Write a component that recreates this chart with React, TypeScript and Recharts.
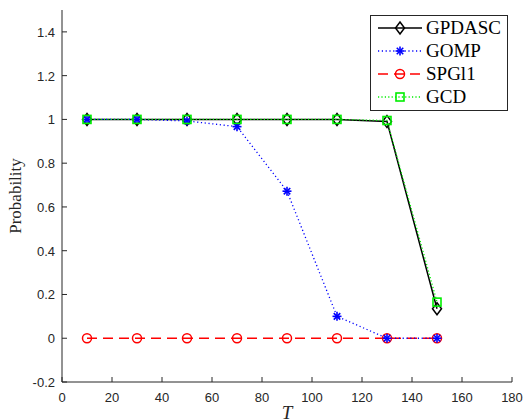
import React from 'react';
import { LineChart, Line, XAxis, YAxis, Legend } from 'recharts';

// sparsity level T and recovery probability per algorithm
const tValues = [10, 30, 50, 70, 90, 110, 130, 150];
const gpdasc = [1, 1, 1, 1, 1, 1, 0.99, 0.135];
const gomp = [1, 1, 0.993, 0.967, 0.672, 0.1, 0, 0];
const spgl1 = [0, 0, 0, 0, 0, 0, 0, 0];
const gcd = [1, 1, 1, 1, 1, 1, 0.995, 0.165];

const xTicks = [0, 20, 40, 60, 80, 100, 120, 140, 160, 180];
const yTicks = [-0.2, 0, 0.2, 0.4, 0.6, 0.8, 1, 1.2, 1.4];

const data = tValues.map((t, i) => ({
  t,
  gpdasc: gpdasc[i],
  gomp: gomp[i],
  spgl1: spgl1[i],
  gcd: gcd[i],
}));

const AXIS = '#262626';
const TICK_FONT = '"Liberation Sans", Arial, sans-serif';
const SERIF = '"Liberation Serif", "Times New Roman", serif';

const fmt = (v: number) => String(Math.round(v * 10) / 10);

function Marker({ kind, cx, cy, color }: { kind: string; cx: number; cy: number; color: string }) {
  if (kind === 'diamond') {
    return (
      <path
        d={`M${cx},${cy - 6} L${cx + 4.5},${cy} L${cx},${cy + 6} L${cx - 4.5},${cy} Z`}
        fill="none"
        stroke={color}
        strokeWidth={1.5}
      />
    );
  }
  if (kind === 'star') {
    const r = 4.5;
    const d = r * 0.72;
    return (
      <g stroke={color} strokeWidth={1.6}>
        <line x1={cx - r} y1={cy} x2={cx + r} y2={cy} />
        <line x1={cx} y1={cy - r} x2={cx} y2={cy + r} />
        <line x1={cx - d} y1={cy - d} x2={cx + d} y2={cy + d} />
        <line x1={cx - d} y1={cy + d} x2={cx + d} y2={cy - d} />
      </g>
    );
  }
  if (kind === 'circle') {
    return <circle cx={cx} cy={cy} r={4.5} fill="none" stroke={color} strokeWidth={1.5} />;
  }
  return <rect x={cx - 4} y={cy - 4} width={8} height={8} fill="none" stroke={color} strokeWidth={1.6} />;
}

const series = [
  { key: 'gpdasc', name: 'GPDASC', color: '#000000', dash: undefined, width: 1.5, marker: 'diamond' },
  { key: 'spgl1', name: 'SPGl1', color: '#ff0000', dash: '10 6', width: 1.5, marker: 'circle' },
  { key: 'gomp', name: 'GOMP', color: '#0000ff', dash: '1.2 2.6', width: 1.3, marker: 'star' },
  { key: 'gcd', name: 'GCD', color: '#00ee00', dash: '1.2 2.2', width: 1.3, marker: 'square' },
];

const legendOrder = ['gpdasc', 'gomp', 'spgl1', 'gcd'];

const makeDot = (kind: string, color: string) => (props: any) => (
  <Marker key={`${kind}-${props.index}`} kind={kind} cx={props.cx} cy={props.cy} color={color} />
);

const BottomTick = (props: any) => {
  const { x, y, payload } = props;
  return (
    <g>
      <line x1={x} y1={y} x2={x} y2={y - 5} stroke={AXIS} />
      <text x={x} y={y + 20} textAnchor="middle" fill={AXIS} style={{ fontSize: 13, fontFamily: TICK_FONT }}>
        {fmt(payload.value)}
      </text>
    </g>
  );
};

const TopTick = (props: any) => {
  const { x, y } = props;
  return <line x1={x} y1={y} x2={x} y2={y + 5} stroke={AXIS} />;
};

const LeftTick = (props: any) => {
  const { x, y, payload } = props;
  return (
    <g>
      <line x1={x} y1={y} x2={x + 5} y2={y} stroke={AXIS} />
      <text x={x - 7} y={y + 5} textAnchor="end" fill={AXIS} style={{ fontSize: 13, fontFamily: TICK_FONT }}>
        {fmt(payload.value)}
      </text>
    </g>
  );
};

const RightTick = (props: any) => {
  const { x, y } = props;
  return <line x1={x} y1={y} x2={x - 5} y2={y} stroke={AXIS} />;
};

function LegendBox() {
  return (
    <svg width={138} height={96} style={{ display: 'block' }}>
      <rect x={0.5} y={0.5} width={137} height={95} fill="#fff" stroke={AXIS} strokeWidth={1} />
      {legendOrder.map((k, i) => {
        const s = series.find((d) => d.key === k)!;
        const y = 13 + i * 23;
        return (
          <g key={k}>
            <line x1={8} y1={y} x2={52} y2={y} stroke={s.color} strokeWidth={s.width} strokeDasharray={s.dash} />
            <Marker kind={s.marker} cx={30} cy={y} color={s.color} />
            <text x={56} y={y + 6} fill="#000" style={{ fontSize: 19, fontFamily: SERIF }}>
              {s.name}
            </text>
          </g>
        );
      })}
    </svg>
  );
}

export default function App() {
  return (
    <div style={{ position: 'absolute', left: 0, top: 0, width: 529, height: 420, background: '#fff' }}>
      <LineChart width={529} height={420} data={data} margin={{ top: 10, right: 17, bottom: 0, left: 0 }}>
        <XAxis
          dataKey="t"
          type="number"
          domain={[0, 180]}
          ticks={xTicks}
          height={38}
          tickSize={0}
          tickMargin={0}
          tick={BottomTick}
          stroke={AXIS}
          interval={0}
          label={(p: any) => {
            const vb = p.viewBox;
            return (
              <text x={vb.x + vb.width / 2} y={vb.y + 37} textAnchor="middle" fill={AXIS} style={{ fontSize: 19, fontStyle: 'italic', fontFamily: SERIF }}>
                T
              </text>
            );
          }}
        />
        <XAxis
          xAxisId="top"
          orientation="top"
          type="number"
          domain={[0, 180]}
          ticks={xTicks}
          height={0}
          tickSize={0}
          tickMargin={0}
          tick={TopTick}
          stroke={AXIS}
          interval={0}
          allowDataOverflow
        />
        <YAxis
          type="number"
          domain={[-0.2, 1.5]}
          ticks={yTicks}
          width={62}
          tickSize={0}
          tickMargin={0}
          tick={LeftTick}
          stroke={AXIS}
          interval={0}
          allowDataOverflow
          label={(p: any) => {
            const vb = p.viewBox;
            const cy = vb.y + vb.height / 2;
            return (
              <text x={21} y={cy} transform={`rotate(-90 21 ${cy})`} textAnchor="middle" fill={AXIS} style={{ fontSize: 17, fontFamily: SERIF }}>
                Probability
              </text>
            );
          }}
        />
        <YAxis
          yAxisId="right"
          orientation="right"
          type="number"
          domain={[-0.2, 1.5]}
          ticks={yTicks}
          width={0}
          tickSize={0}
          tickMargin={0}
          tick={RightTick}
          stroke={AXIS}
          interval={0}
          allowDataOverflow
        />
        {series.map((s) => (
          <Line
            key={s.key}
            dataKey={s.key}
            name={s.name}
            stroke={s.color}
            strokeWidth={s.width}
            strokeDasharray={s.dash}
            dot={makeDot(s.marker, s.color)}
            activeDot={false}
            isAnimationActive={false}
          />
        ))}
        <Legend
          layout="horizontal"
          verticalAlign="middle"
          align="center"
          content={() => <LegendBox />}
          wrapperStyle={{ position: 'absolute', left: 370, top: 15, width: 138, height: 96 }}
        />
      </LineChart>
    </div>
  );
}
